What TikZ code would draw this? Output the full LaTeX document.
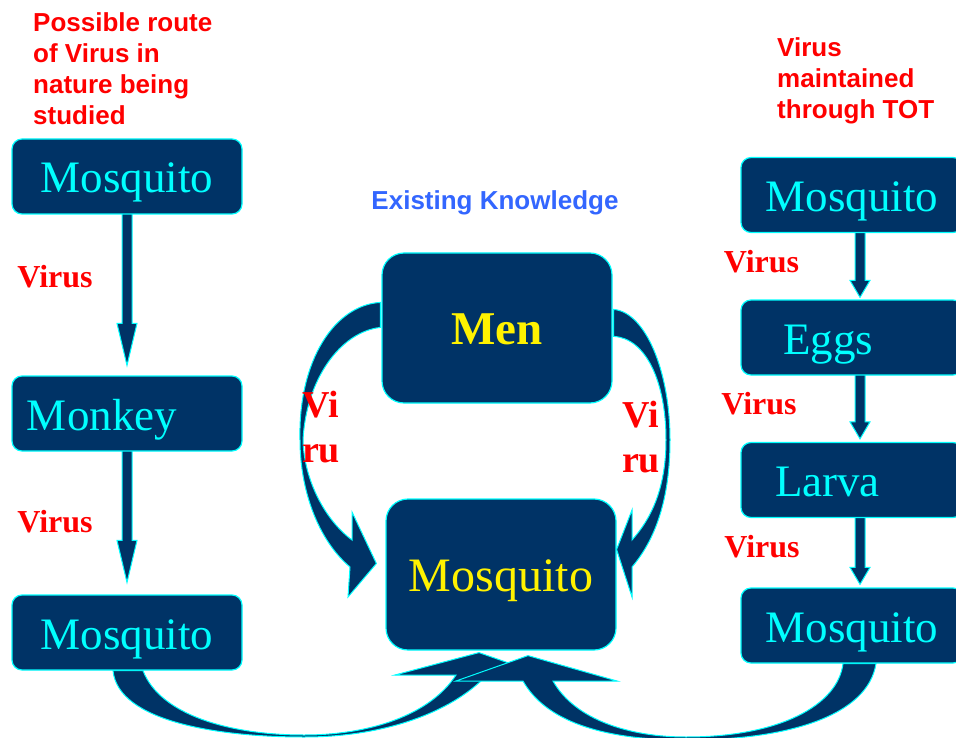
\documentclass[tikz,border=0pt]{standalone}
\usepackage{fontspec}
\setmainfont{Liberation Serif}
\setsansfont{Liberation Sans}
\usetikzlibrary{calc}
\pgfdeclarelayer{bg}
\pgfsetlayers{bg,main}
\definecolor{boxfill}{HTML}{003366}
\definecolor{boxline}{HTML}{00FFFF}
\definecolor{heading}{HTML}{3366FF}

\tikzset{
  box/.style={draw=boxline, fill=boxfill, line width=1.2pt, rounded corners=10pt,
    minimum width=230pt, minimum height=75pt, text height=43pt, text depth=10pt,
    text=boxline, font=\fontsize{45}{50}\selectfont},
  bigbox/.style={box, rounded corners=22pt, minimum height=150pt, text=yellow},
  arrowbody/.style={fill=boxfill, draw=boxline, line width=1pt},
  virus/.style={text=red, font=\bfseries\fontsize{32}{36}\selectfont, inner sep=0pt},
  viru/.style={text=red, font=\bfseries\fontsize{38}{45}\selectfont, align=left, inner sep=0pt},
  note/.style={text=red, font=\sffamily\bfseries\fontsize{26}{31}\selectfont, align=left,
    anchor=north west, inner sep=0pt}
}

% block arrow straight down: from, to, gap, head length
\newcommand\blockdown[4]{%
  \path[arrowbody] let \p1=#1, \p2=#2 in
    (\x1-5pt,\y1+3pt) -- (\x1+5pt,\y1+3pt) -- (\x1+5pt,\y2+#3+#4) -- (\x1+10pt,\y2+#3+#4)
    -- (\x1,\y2+#3) -- (\x1-10pt,\y2+#3+#4) -- (\x1-5pt,\y2+#3+#4) -- cycle;}

\begin{document}
\begin{tikzpicture}[x=1pt,y=-1pt]
\path[use as bounding box] (0,0) rectangle (956,738);

\node[note] (route) at (33,12.5) {Possible route\\of Virus in\\nature being\\studied};
\node[note] (tot) at (777,37.5) {Virus\\maintained\\through TOT};
\node[text=heading, font=\sffamily\bfseries\fontsize{26}{31}\selectfont] (known) at (495,203) {Existing Knowledge};

% left column
\node[box] (lmos1) at (127,176.5) {Mosquito};
\node[box, align=left, text width=200pt, inner xsep=15pt] (monkey) at (127,413.5) {Monkey};
\node[box] (lmos2) at (127,632.5) {Mosquito};

% middle
\node[bigbox, font=\bfseries\fontsize{47}{50}\selectfont] (men) at (497,328) {Men};
\node[bigbox, minimum height=151pt, font=\fontsize{48}{52}\selectfont] (mmos) at (501,574.5) {Mosquito};

% right column
\node[box, minimum width=222pt] (rmos1) at (852,195) {Mosquito};
\node[box, minimum width=222pt, align=left, text width=138pt, inner xsep=42pt] (eggs) at (852,337.5) {Eggs};
\node[box, minimum width=222pt, align=left, text width=154pt, inner xsep=34pt] (larva) at (852,480) {Larva};
\node[box, minimum width=222pt] (rmos2) at (852,625.5) {Mosquito};

\node[virus] (v1) at (55,277) {Virus};
\node[virus] (v2) at (55,522) {Virus};
\node[virus] (v3) at (761.5,262) {Virus};
\node[virus] (v4) at (759,404) {Virus};
\node[virus] (v5) at (762,547) {Virus};
\node[viru] (vl) at (321,427.5) {Vi\\ru};
\node[viru] (vr) at (641,437) {Vi\\ru};

\begin{pgfonlayer}{bg}
\fill[white] (0,0) rectangle (956,738);
\blockdown{(lmos1.south)}{(monkey.north)}{10pt}{42pt}
\blockdown{(monkey.south)}{(lmos2.north)}{12pt}{42pt}
\blockdown{([xshift=8pt]rmos1.south)}{(eggs.north)}{2pt}{17pt}
\blockdown{([xshift=8pt]eggs.south)}{(larva.north)}{3pt}{17pt}
\blockdown{([xshift=8pt]larva.south)}{(rmos2.north)}{3pt}{17pt}

% men to mosquito, left
\path[arrowbody] ([shift={(-1,50)}]men.north west)
  .. controls (335,305) and (298,360) .. (300,440)
  .. controls (300,490) and (318,540) .. (350,567)
  -- (348,597) -- ([shift={(-9,-11)}]mmos.west) -- (352,512) -- (352,540)
  .. controls (325,520) and (304,480) .. (303,440)
  .. controls (306,380) and (340,332) .. ([shift={(-1,75)}]men.north west) -- cycle;
% men to mosquito, right
\path[arrowbody] ([shift={(1,57)}]men.north east)
  .. controls (645,312) and (670,370) .. (670,440)
  .. controls (670,500) and (655,540) .. (632,567)
  -- (632,597) -- ([shift={(0,-25)}]mmos.east) -- (632,510) -- (632,540)
  .. controls (650,520) and (666,490) .. (666,440)
  .. controls (666,380) and (645,338) .. ([shift={(1,84)}]men.north east) -- cycle;

% bottom loops
\path[arrowbody] ([xshift=-14pt]lmos2.south)
  .. controls (118,722) and (220,737) .. (304,737)
  .. controls (380,737) and (445,715) .. (482,680)
  -- (543,675) -- ([shift={(-22,2)}]mmos.south) -- (395,675) -- (456,675)
  .. controls (430,715) and (370,735) .. (304,735)
  .. controls (230,735) and (160,715) .. ([xshift=16pt]lmos2.south) -- cycle;
\path[arrowbody] ([xshift=24pt]rmos2.south)
  .. controls (868,715) and (790,740) .. (686,740)
  .. controls (600,740) and (545,720) .. (523,681)
  -- (456,681) -- ([shift={(27,5)}]mmos.south) -- (617,681) -- (553,681)
  .. controls (575,720) and (630,737) .. (686,737)
  .. controls (780,737) and (838,705) .. ([xshift=-9pt]rmos2.south) -- cycle;
\end{pgfonlayer}
\end{tikzpicture}
\end{document}
